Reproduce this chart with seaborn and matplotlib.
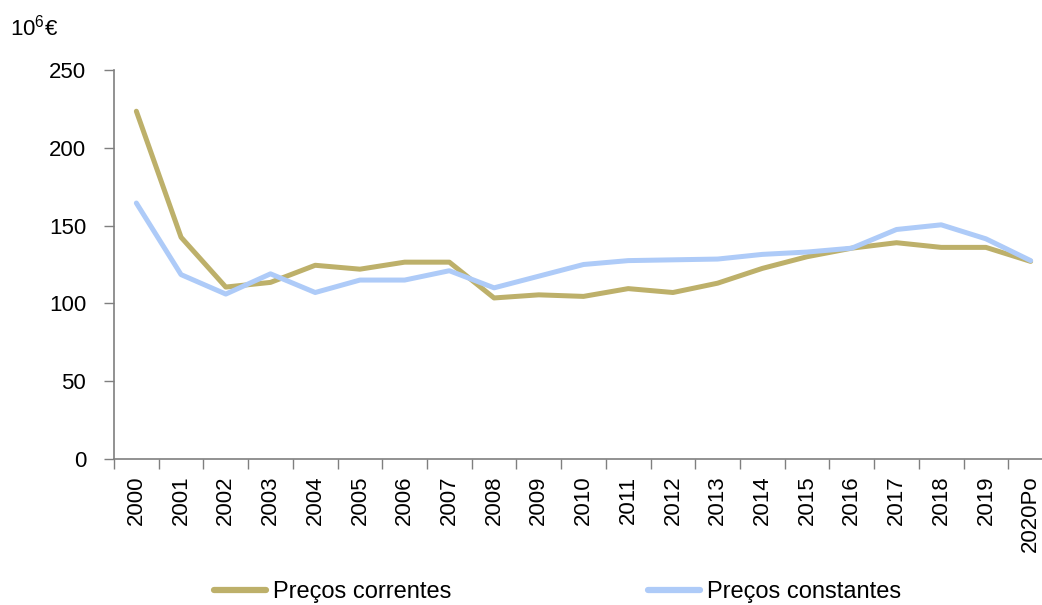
import matplotlib
matplotlib.use("Agg")
import matplotlib.pyplot as plt
import seaborn as sns
import pandas as pd
from matplotlib.lines import Line2D

years = ["2000", "2001", "2002", "2003", "2004", "2005", "2006", "2007", "2008", "2009",
         "2010", "2011", "2012", "2013", "2014", "2015", "2016", "2017", "2018", "2019", "2020Po"]
correntes = [223.5, 142.5, 110.5, 113.5, 124.5, 122, 126.5, 126.5, 103.5, 105.5,
             104.5, 109.5, 107, 113, 122.5, 130, 135.5, 139, 136, 136, 127]
constantes = [164.5, 118.5, 106, 119, 107, 115, 115, 121, 110, 117.5,
              125, 127.5, 128, 128.5, 131.5, 133, 135.5, 147.5, 150.5, 141.5, 127.5]
series_names = ["Preços correntes", "Preços constantes"]
colors = ["#BDB06A", "#AECBF8"]

df = pd.DataFrame({"Ano": years * 2,
                   "Valor": correntes + constantes,
                   "Série": [series_names[0]] * len(years) + [series_names[1]] * len(years)})
df["x"] = list(range(len(years))) * 2

sns.set_theme(style="white")
plt.rcParams["font.family"] = ["Liberation Sans", "DejaVu Sans"]
plt.rcParams["mathtext.default"] = "regular"
plt.rcParams["text.color"] = "black"
plt.rcParams["xtick.color"] = "black"
plt.rcParams["ytick.color"] = "black"

fig = plt.figure(figsize=(10.42, 6.05), dpi=100)
ax = fig.add_axes([114 / 1042, 1 - 459 / 605, (1053 - 114) / 1042, (459 - 70) / 605])

sns.lineplot(data=df, x="x", y="Valor", hue="Série", palette=colors, linewidth=3.6,
             ax=ax, legend=False, solid_capstyle="round")

ax.set_xlim(-0.5, len(years) - 0.5)
ax.set_ylim(0, 250)
ax.set_yticks([0, 50, 100, 150, 200, 250])
ax.set_xticks(range(len(years)))
ax.set_xticklabels(years, rotation=90, fontsize=16)
ax.tick_params(axis="y", labelsize=16, length=7, width=1, color="#7f7f7f", labelcolor="black",
               direction="out", left=True, pad=13)
ax.tick_params(axis="x", length=0, pad=12, labelcolor="black")
ax.set_xticks([i - 0.5 for i in range(len(years) + 1)], minor=True)
ax.tick_params(axis="x", which="minor", length=7, width=1, color="#7f7f7f", direction="out", bottom=True)
ax.set_xlabel("")
ax.set_ylabel("")
for s in ["top", "right"]:
    ax.spines[s].set_visible(False)
for s in ["left", "bottom"]:
    ax.spines[s].set_color("#7f7f7f")
    ax.spines[s].set_linewidth(1.2)

fig.text(10 / 1042, 1 - 28 / 605, "10$^{6}$€", fontsize=16, va="center", ha="left", color="black")

handles = [Line2D([], [], color=c, linewidth=4.5, solid_capstyle="round") for c in colors]
fig.legend(handles, series_names, loc="center", bbox_to_anchor=(0.535, 1 - 592 / 605), ncol=2,
           frameon=False, fontsize=17, handlelength=2.2, handletextpad=0.3, columnspacing=8.3,
           labelcolor="black")

fig.savefig("out.png", dpi=100)
